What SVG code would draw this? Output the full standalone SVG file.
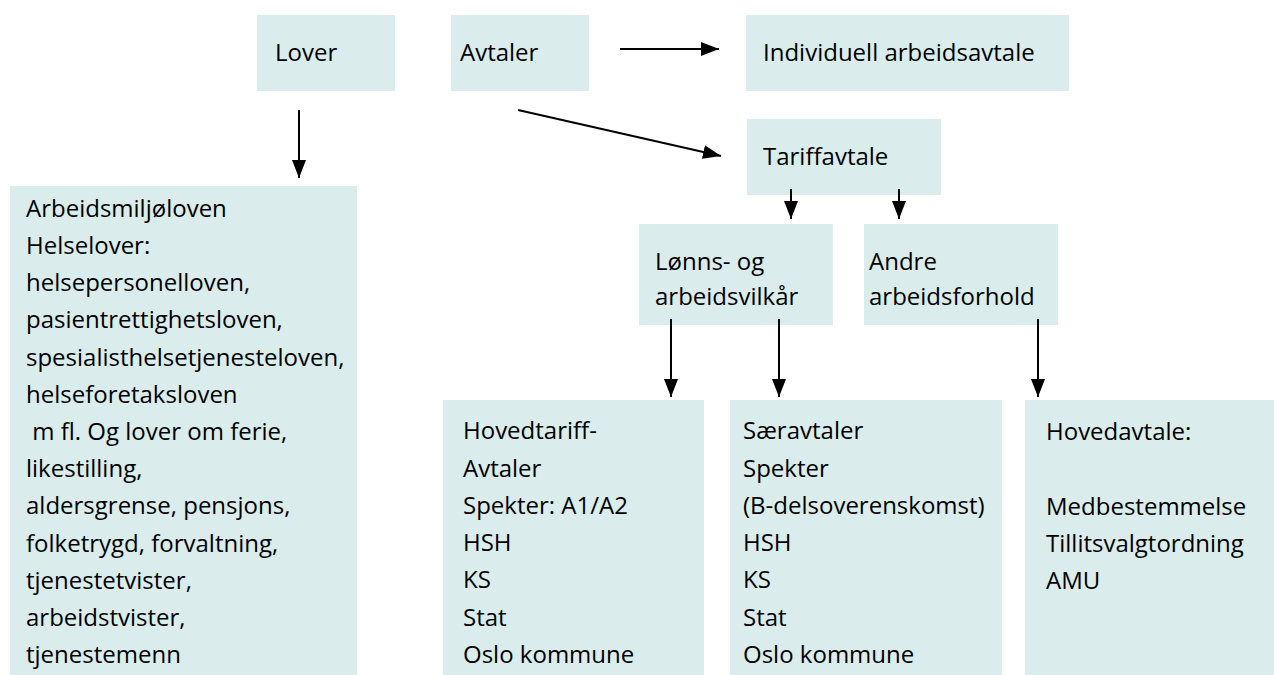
<svg xmlns="http://www.w3.org/2000/svg" width="1274" height="675" viewBox="0 0 1274 675">
<style>
.box{fill:#daedec}
text{font-family:"Open Sans",Lato,"Liberation Sans",sans-serif;font-size:24px;fill:#000;font-variant-ligatures:none}
.c{stroke:#000;stroke-width:2;fill:none;marker-end:url(#ah)}
</style>
<defs>
<marker id="ah" markerUnits="userSpaceOnUse" markerWidth="18" markerHeight="14" refX="18" refY="7" orient="auto">
<path d="M0,0 L18,7 L0,14 Z" fill="#000"/>
</marker>
</defs>
<rect width="1274" height="675" fill="#fff"/>
<g id="lover"><rect class="box" x="257" y="15" width="138" height="76"/><text x="275" y="61">Lover</text></g>
<g id="avtaler"><rect class="box" x="451" y="15" width="138" height="76"/><text x="460" y="61">Avtaler</text></g>
<g id="individuell"><rect class="box" x="746" y="15" width="323" height="76"/><text x="763" y="61">Individuell arbeidsavtale</text></g>
<g id="tariffavtale"><rect class="box" x="747" y="119" width="194" height="76"/><text x="763" y="165">Tariffavtale</text></g>
<g id="lonns"><rect class="box" x="639" y="224" width="194" height="101"/><text x="655" y="270">Lønns- og</text><text x="655" y="305">arbeidsvilkår</text></g>
<g id="andre"><rect class="box" x="864" y="224" width="194" height="101"/><text x="869" y="270">Andre</text><text x="869" y="305">arbeidsforhold</text></g>
<g id="arbeidsmiljo"><rect class="box" x="10" y="186" width="347" height="489"/>
<text x="26" y="217">Arbeidsmiljøloven</text>
<text x="26" y="254">Helselover:</text>
<text x="26" y="291">helsepersonelloven,</text>
<text x="26" y="328">pasientrettighetsloven,</text>
<text x="26" y="366">spesialisthelsetjenesteloven,</text>
<text x="26" y="403">helseforetaksloven</text>
<text x="26" y="440" xml:space="preserve"> m fl. Og lover om ferie,</text>
<text x="26" y="477">likestilling,</text>
<text x="26" y="514">aldersgrense, pensjons,</text>
<text x="26" y="552">folketrygd, forvaltning,</text>
<text x="26" y="589">tjenestetvister,</text>
<text x="26" y="626">arbeidstvister,</text>
<text x="26" y="663">tjenestemenn</text>
</g>
<g id="hovedtariff"><rect class="box" x="443" y="400" width="261" height="275"/>
<text x="463" y="439">Hovedtariff-</text>
<text x="463" y="477">Avtaler</text>
<text x="463" y="514">Spekter: A1/A2</text>
<text x="463" y="551">HSH</text>
<text x="463" y="588">KS</text>
<text x="463" y="626">Stat</text>
<text x="463" y="663">Oslo kommune</text>
</g>
<g id="saeravtaler"><rect class="box" x="730" y="400" width="272" height="275"/>
<text x="743" y="439">Særavtaler</text>
<text x="743" y="477">Spekter</text>
<text x="743" y="514">(B-delsoverenskomst)</text>
<text x="743" y="551">HSH</text>
<text x="743" y="588">KS</text>
<text x="743" y="626">Stat</text>
<text x="743" y="663">Oslo kommune</text>
</g>
<g id="hovedavtale"><rect class="box" x="1025" y="400" width="249" height="275"/>
<text x="1046" y="440">Hovedavtale:</text>
<text x="1046" y="515">Medbestemmelse</text>
<text x="1046" y="552">Tillitsvalgtordning</text>
<text x="1046" y="589">AMU</text>
</g>
<g id="connectors">
<line class="c" x1="299" y1="110" x2="299" y2="178"/>
<line class="c" x1="620" y1="49" x2="719" y2="49"/>
<line class="c" x1="518" y1="110" x2="721" y2="156"/>
<line class="c" x1="791" y1="189" x2="791" y2="219"/>
<line class="c" x1="899" y1="189" x2="899" y2="219"/>
<line class="c" x1="671" y1="319" x2="671" y2="397"/>
<line class="c" x1="779" y1="319" x2="779" y2="397"/>
<line class="c" x1="1038" y1="319" x2="1038" y2="397"/>
</g>
</svg>
